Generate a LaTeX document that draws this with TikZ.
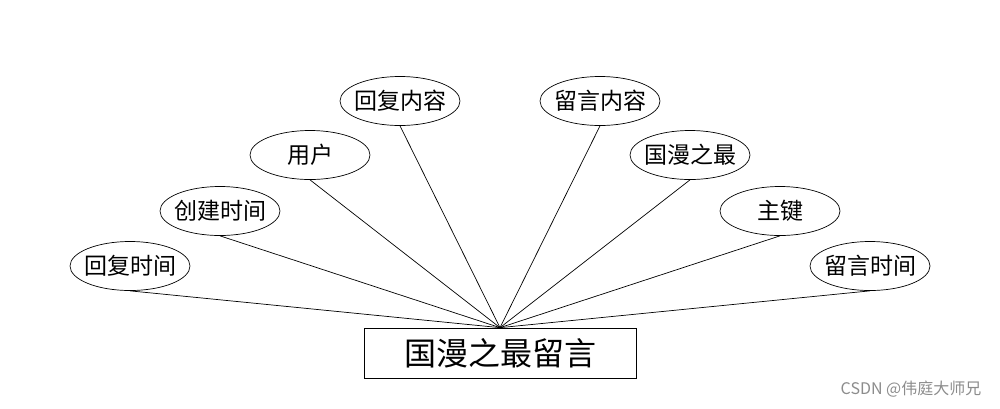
\documentclass[tikz,border=0pt]{standalone}
\usepackage{fontspec}
\setmainfont{Noto Sans CJK SC}
\usetikzlibrary{shapes.geometric}

\begin{document}
\begin{tikzpicture}[x=1pt,y=-1pt,
  attr/.style={draw, ellipse, minimum width=120pt, minimum height=49pt, inner ysep=0pt, inner xsep=-4pt, font=\fontsize{23}{23}\selectfont},
  ent/.style={draw, rectangle, minimum width=272pt, minimum height=50pt, inner sep=0pt, font=\fontsize{32}{32}\selectfont},
  line width=0.7pt]
  \useasboundingbox (0,0) rectangle (1000,408);
  \node[ent] (e) at (500,353) {国漫之最留言};
  \node[attr] (a1) at (130,266) {回复时间};
  \node[attr] (a2) at (220,211) {创建时间};
  \node[attr] (a3) at (310,155) {用户};
  \node[attr] (a4) at (400,101) {回复内容};
  \node[attr] (a5) at (600,101) {留言内容};
  \node[attr] (a6) at (690,155) {国漫之最};
  \node[attr] (a7) at (780,211) {主键};
  \node[attr] (a8) at (870,266) {留言时间};
  \foreach \i in {1,...,8}
    \draw (e.north) -- (a\i.south);
  \node[text=black!45, font=\fontsize{16}{16}\selectfont, anchor=east] (wm) at (985,389) {CSDN @伟庭大师兄};
\end{tikzpicture}
\end{document}
